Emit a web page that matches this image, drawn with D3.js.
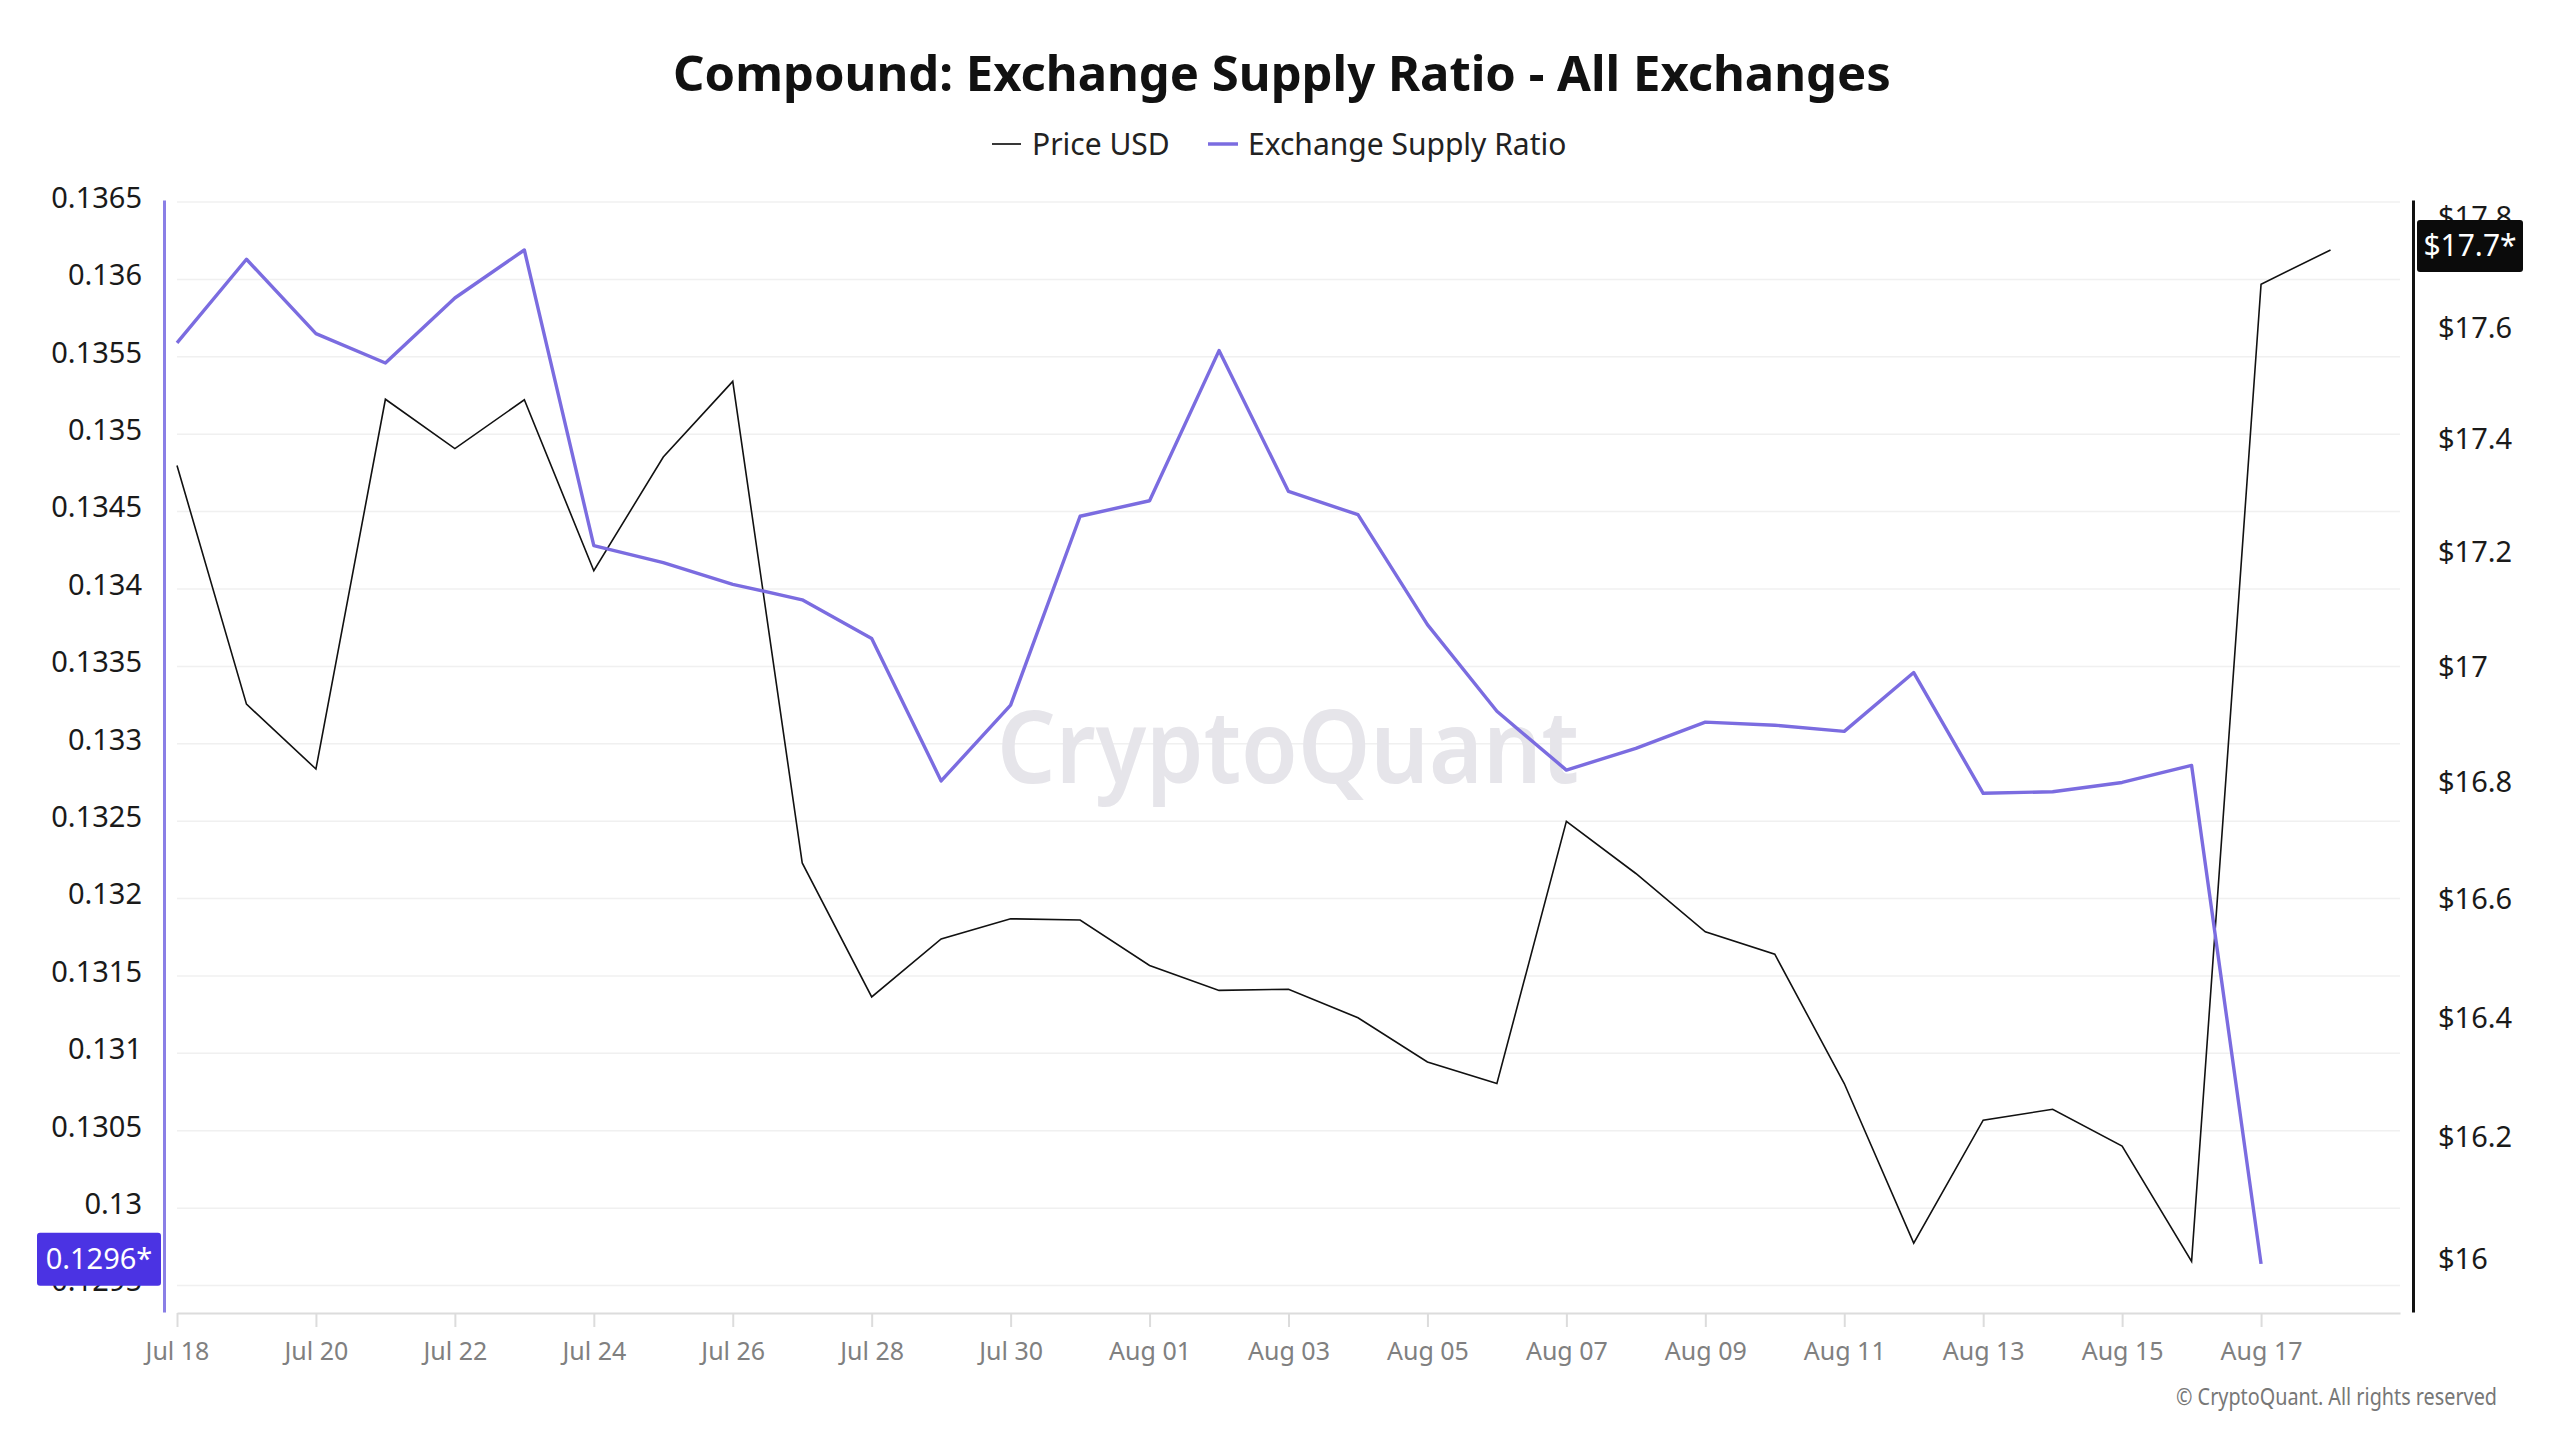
<!DOCTYPE html>
<html>
<head>
<meta charset="utf-8">
<script src="https://cdn.jsdelivr.net/npm/d3@7"></script>
<style>
  body { margin: 0; background: #fff; }
  text { font-family: "Noto Sans", "Open Sans", sans-serif; }
</style>
</head>
<body>
<div id="myChart"></div>
<script>
// daily values
let dates = [
    "2025-07-18", "2025-07-19", "2025-07-20", "2025-07-21", "2025-07-22", "2025-07-23",
    "2025-07-24", "2025-07-25", "2025-07-26", "2025-07-27", "2025-07-28", "2025-07-29",
    "2025-07-30", "2025-07-31", "2025-08-01", "2025-08-02", "2025-08-03", "2025-08-04",
    "2025-08-05", "2025-08-06", "2025-08-07", "2025-08-08", "2025-08-09", "2025-08-10",
    "2025-08-11", "2025-08-12", "2025-08-13", "2025-08-14", "2025-08-15", "2025-08-16",
    "2025-08-17", "2025-08-18"
];
let priceUsd = [
    17.354, 16.935, 16.823, 17.472, 17.384, 17.471, 17.168, 17.369, 17.504, 16.662,
    16.435, 16.533, 16.567, 16.565, 16.488, 16.446, 16.448, 16.400, 16.326, 16.290,
    16.733, 16.644, 16.545, 16.507, 16.290, 16.026, 16.229, 16.247, 16.186, 15.996,
    17.679, 17.741
];
let supplyRatio = [
    0.13559, 0.13613, 0.13565, 0.13546, 0.13588, 0.13619, 0.13428, 0.13417, 0.13403, 0.13393,
    0.13368, 0.13276, 0.13325, 0.13447, 0.13457, 0.13554, 0.13463, 0.13448, 0.13377, 0.13321,
    0.13283, 0.13297, 0.13314, 0.13312, 0.13308, 0.13346, 0.13268, 0.13269, 0.13275, 0.13286,
    0.12964
];
let ratioTicks = [0.1295, 0.13, 0.1305, 0.131, 0.1315, 0.132, 0.1325, 0.133, 0.1335,
    0.134, 0.1345, 0.135, 0.1355, 0.136, 0.1365];
let priceTicks = [16, 16.2, 16.4, 16.6, 16.8, 17, 17.2, 17.4, 17.6, 17.8];
let xTickDates = ["2025-07-18", "2025-07-20", "2025-07-22", "2025-07-24", "2025-07-26",
    "2025-07-28", "2025-07-30", "2025-08-01", "2025-08-03", "2025-08-05", "2025-08-07",
    "2025-08-09", "2025-08-11", "2025-08-13", "2025-08-15", "2025-08-17"];

let purple = "#7b6ce0";

let margin = { top: 200, right: 147, bottom: 128, left: 164 },
    width = 2560 - margin.left - margin.right,
    height = 1440 - margin.top - margin.bottom;

let parse = d3.timeParse("%Y-%m-%d");

let priceData = dates.map(function(d, i) { return { date: parse(d), value: priceUsd[i] }; });
let ratioData = supplyRatio.map(function(v, i) { return { date: parse(dates[i]), value: v }; });

let x = d3.scaleTime()
    .domain([parse("2025-07-18"), parse("2025-08-19")])
    .range([13, width - 13]);
let yRatio = d3.scaleLinear()
    .domain([0.129329, 0.136513])
    .range([height, 0]);
let yPrice = d3.scaleLog()
    .domain([15.9134, 17.832])
    .range([height, 0]);

let root = d3.select("#myChart").append("svg")
    .attr("width", 2560)
    .attr("height", 1440);

root.append("rect")
    .attr("width", 2560)
    .attr("height", 1440)
    .attr("fill", "#fff");

// title + legend
root.append("text")
    .attr("x", 1282)
    .attr("y", 74)
    .attr("dy", "0.35em")
    .style("text-anchor", "middle")
    .style("font-size", "49px")
    .style("font-weight", "700")
    .style("fill", "#111")
    .text("Compound: Exchange Supply Ratio - All Exchanges");

let legend = root.append("g").attr("transform", "translate(0,144)");
legend.append("line")
    .attr("x1", 992).attr("x2", 1021)
    .attr("stroke", "#222").attr("stroke-width", 1.8);
legend.append("text")
    .attr("x", 1032).attr("dy", "0.35em")
    .style("font-size", "30px").style("fill", "#222")
    .text("Price USD");
legend.append("line")
    .attr("x1", 1208).attr("x2", 1238)
    .attr("stroke", purple).attr("stroke-width", 3.5);
legend.append("text")
    .attr("x", 1248).attr("dy", "0.35em")
    .style("font-size", "30px").style("fill", "#222")
    .text("Exchange Supply Ratio");

let svg = root.append("g")
    .attr("transform", "translate(" + margin.left + "," + margin.top + ")");

// gridlines from the left scale
svg.selectAll(".grid")
    .data(ratioTicks)
    .enter()
    .append("line")
    .attr("class", "grid")
    .attr("x1", 13)
    .attr("x2", width - 13)
    .attr("y1", function(d) { return yRatio(d); })
    .attr("y2", function(d) { return yRatio(d); })
    .attr("stroke", "#f0f0f0")
    .attr("stroke-width", 1.5);

// watermark
svg.append("text")
    .attr("x", 1288 - margin.left)
    .attr("y", 783 - margin.top)
    .attr("textLength", 582)
    .attr("lengthAdjust", "spacingAndGlyphs")
    .style("text-anchor", "middle")
    .style("font-size", "102px")
    .style("font-weight", "600")
    .style("fill", "#e6e5ea")
    .text("CryptoQuant");

// x axis
let xAxis = svg.append("g")
    .attr("transform", "translate(0," + (height + 1) + ")")
    .call(d3.axisBottom(x)
        .tickValues(xTickDates.map(parse))
        .tickFormat(d3.timeFormat("%b %d"))
        .tickSize(14)
        .tickSizeOuter(0)
        .tickPadding(15));
xAxis.select(".domain").attr("stroke", "#dcdcdc").attr("stroke-width", 2);
xAxis.selectAll(".tick line").attr("stroke", "#dcdcdc").attr("stroke-width", 2);
xAxis.selectAll(".tick text")
    .style("font-size", "25px")
    .style("font-family", "Noto Sans")
    .attr("fill", "#808080");

// left axis
let leftAxis = svg.append("g")
    .call(d3.axisLeft(yRatio)
        .tickValues(ratioTicks)
        .tickFormat(d3.format(".4~f"))
        .tickSize(0)
        .tickSizeOuter(0)
        .tickPadding(22));
leftAxis.select(".domain").attr("stroke", "#8a7fe6").attr("stroke-width", 3);
leftAxis.selectAll(".tick text")
    .attr("y", -4)
    .style("font-size", "29px")
    .style("font-family", "Noto Sans")
    .attr("fill", "#1a1a1a");

// right axis
let rightAxis = svg.append("g")
    .attr("transform", "translate(" + width + ",0)")
    .call(d3.axisRight(yPrice)
        .tickValues(priceTicks)
        .tickFormat(function(d) { return "$" + d3.format(".1~f")(d); })
        .tickSize(0)
        .tickSizeOuter(0)
        .tickPadding(25));
rightAxis.select(".domain").attr("stroke", "#111").attr("stroke-width", 3);
rightAxis.selectAll(".tick text")
    .style("font-size", "29px")
    .style("font-family", "Noto Sans")
    .attr("fill", "#1a1a1a");

// lines
svg.append("path")
    .datum(priceData)
    .attr("fill", "none")
    .attr("stroke", "#111")
    .attr("stroke-width", 1.6)
    .attr("d", d3.line()
        .x(function(d) { return x(d.date); })
        .y(function(d) { return yPrice(d.value); }));

svg.append("path")
    .datum(ratioData)
    .attr("fill", "none")
    .attr("stroke", purple)
    .attr("stroke-width", 3.4)
    .attr("stroke-linejoin", "round")
    .attr("d", d3.line()
        .x(function(d) { return x(d.date); })
        .y(function(d) { return yRatio(d.value); }));

// last value badges
let lastRatio = ratioData[ratioData.length - 1].value;
let ratioBadge = svg.append("g")
    .attr("transform", "translate(0," + (yRatio(lastRatio) - 5) + ")");
ratioBadge.append("rect")
    .attr("x", -127).attr("y", -26)
    .attr("width", 124).attr("height", 53)
    .attr("rx", 3)
    .attr("fill", "#4b33e3");
ratioBadge.append("text")
    .attr("x", -65).attr("dy", "0.35em")
    .style("text-anchor", "middle")
    .style("font-size", "29px")
    .style("fill", "#fff")
    .text(d3.format(".4f")(lastRatio) + "*");

let lastPrice = priceData[priceData.length - 1].value;
let priceBadge = svg.append("g")
    .attr("transform", "translate(" + width + "," + (yPrice(lastPrice) - 4) + ")");
priceBadge.append("rect")
    .attr("x", 4).attr("y", -26)
    .attr("width", 106).attr("height", 52)
    .attr("rx", 3)
    .attr("fill", "#0b0b0b");
priceBadge.append("text")
    .attr("x", 57).attr("dy", "0.35em")
    .style("text-anchor", "middle")
    .style("font-size", "30px")
    .style("fill", "#fff")
    .text("$" + d3.format(".1f")(lastPrice) + "*");

// copyright
root.append("text")
    .attr("x", 2497)
    .attr("y", 1397)
    .attr("dy", "0.35em")
    .attr("textLength", 321)
    .attr("lengthAdjust", "spacingAndGlyphs")
    .style("text-anchor", "end")
    .style("font-size", "23px")
    .style("fill", "#777")
    .text("© CryptoQuant. All rights reserved");
</script>
</body>
</html>
